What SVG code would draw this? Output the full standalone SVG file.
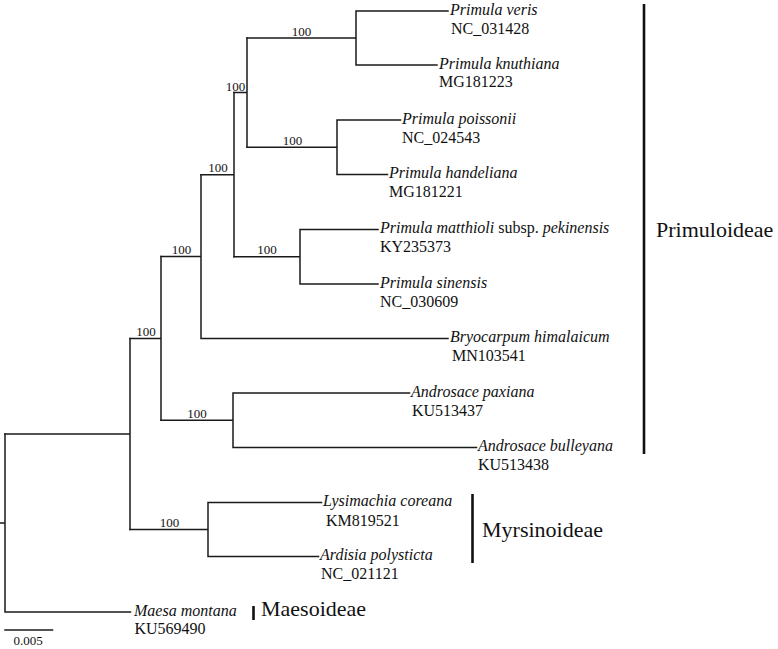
<svg xmlns="http://www.w3.org/2000/svg" width="778" height="649" viewBox="0 0 778 649">
<style>
  .br { fill: none; stroke: #1a1a1a; stroke-width: 1.5; stroke-linecap: square; stroke-linejoin: miter; }
  .bar { stroke: #111; stroke-width: 2.6; }
  text { font-family: "Liberation Serif", "Times New Roman", serif; fill: #111; }
  .sp { font-size: 16px; font-style: italic; }
  .id { font-size: 16px; }
  .bs { font-size: 13px; text-anchor: middle; }
  .cl { font-size: 22px; }
  .it { font-style: italic; }
</style>
<rect width="778" height="649" fill="#fff"/>
<g id="connectors">
  <path class="br" d="M448 11 H356 V65 H437 M247 38 H356"/>
  <path class="br" d="M400.5 120 H337 V174.5 H387.5 M247 147.25 H337"/>
  <path class="br" d="M247 38 V147.25 M234 92.6 H247"/>
  <path class="br" d="M378 229.5 H300 V284 H378 M234 256.75 H300"/>
  <path class="br" d="M234 92.6 V256.75 M201 174.7 H234"/>
  <path class="br" d="M201 174.7 V338.5 H448 M161 256.6 H201"/>
  <path class="br" d="M409.5 393 H233 V447.5 H476.5 M161 420.25 H233"/>
  <path class="br" d="M161 256.6 V420.25 M130 338.4 H161"/>
  <path class="br" d="M321.5 502.5 H208 V556.5 H318.5 M130 529.5 H208"/>
  <path class="br" d="M130 338.4 V529.5 M5 434 H130"/>
  <path class="br" d="M5 434 V612 H130.5 M0 523 H5"/>
</g>
<g id="scale">
  <path class="br" d="M5 630 H52.5"/>
  <text class="bs" x="28" y="645">0.005</text>
</g>
<g id="bootstrap">
  <text class="bs" x="301.5" y="35.5">100</text>
  <text class="bs" x="292.5" y="144.5">100</text>
  <text class="bs" x="235.5" y="90.5">100</text>
  <text class="bs" x="218" y="172">100</text>
  <text class="bs" x="267" y="254">100</text>
  <text class="bs" x="181.5" y="254">100</text>
  <text class="bs" x="146" y="336">100</text>
  <text class="bs" x="197" y="418">100</text>
  <text class="bs" x="169.5" y="527">100</text>
</g>
<g id="leaf-veris"><text class="sp" x="450" y="14.5">Primula veris</text><text class="id" x="451" y="34">NC_031428</text></g>
<g id="leaf-knuthiana"><text class="sp" x="439" y="68.5">Primula knuthiana</text><text class="id" x="439" y="87">MG181223</text></g>
<g id="leaf-poissonii"><text class="sp" x="402" y="123.5">Primula poissonii</text><text class="id" x="402" y="142.5">NC_024543</text></g>
<g id="leaf-handeliana"><text class="sp" x="389" y="178">Primula handeliana</text><text class="id" x="389" y="197">MG181221</text></g>
<g id="leaf-matthioli"><text class="id" x="380" y="233"><tspan class="it">Primula matthioli</tspan> subsp. <tspan class="it">pekinensis</tspan></text><text class="id" x="380" y="251.5">KY235373</text></g>
<g id="leaf-sinensis"><text class="sp" x="380" y="287.5">Primula sinensis</text><text class="id" x="380" y="306.5">NC_030609</text></g>
<g id="leaf-bryocarpum"><text class="sp" x="450" y="342">Bryocarpum himalaicum</text><text class="id" x="452" y="361">MN103541</text></g>
<g id="leaf-paxiana"><text class="sp" x="411" y="396.5">Androsace paxiana</text><text class="id" x="412" y="415.5">KU513437</text></g>
<g id="leaf-bulleyana"><text class="sp" x="478" y="451">Androsace bulleyana</text><text class="id" x="478" y="470">KU513438</text></g>
<g id="leaf-lysimachia"><text class="sp" x="323" y="506">Lysimachia coreana</text><text class="id" x="326" y="525.5">KM819521</text></g>
<g id="leaf-ardisia"><text class="sp" x="320" y="560">Ardisia polysticta</text><text class="id" x="321" y="579">NC_021121</text></g>
<g id="leaf-maesa"><text class="sp" x="134" y="615.5">Maesa montana</text><text class="id" x="134.5" y="634">KU569490</text></g>
<g id="clade-primuloideae"><line class="bar" x1="644" y1="4" x2="644" y2="454"/><text class="cl" x="656" y="237">Primuloideae</text></g>
<g id="clade-myrsinoideae"><line class="bar" x1="472.5" y1="494" x2="472.5" y2="563"/><text class="cl" x="482" y="537">Myrsinoideae</text></g>
<g id="clade-maesoideae"><line class="bar" x1="253.5" y1="606" x2="253.5" y2="620"/><text class="cl" x="261" y="616">Maesoideae</text></g>
</svg>
